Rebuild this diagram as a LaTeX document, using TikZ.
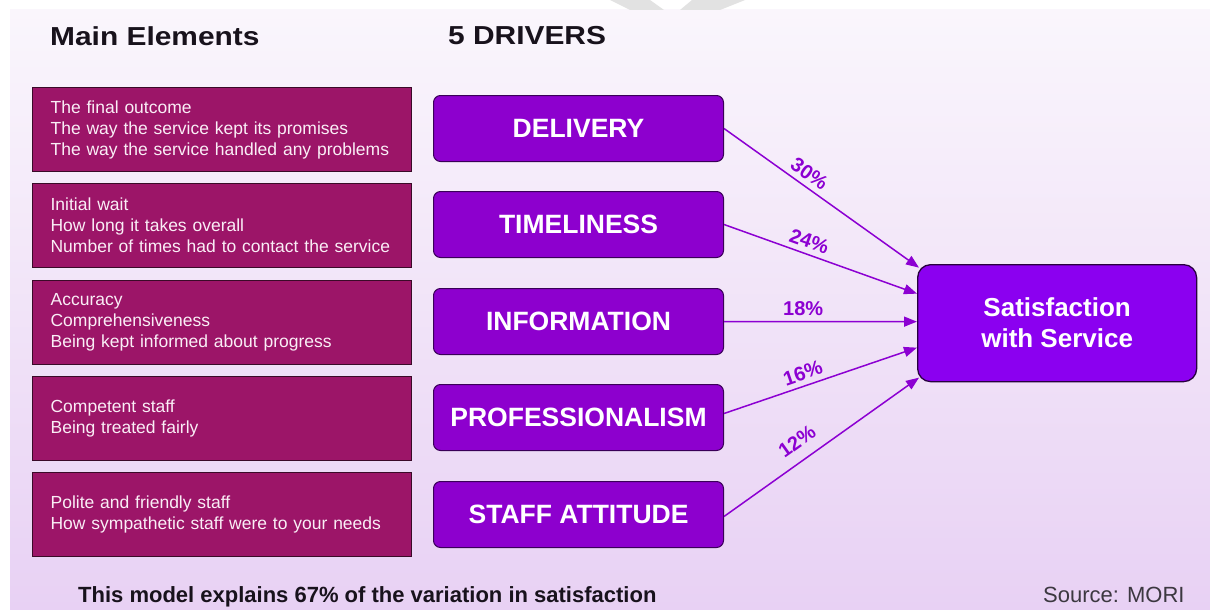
\documentclass[tikz,border=0pt]{standalone}
\usepackage{fontspec}
\setmainfont{Liberation Sans}
\newfontfamily\widefont[FakeStretch=1.15]{Liberation Sans}
\usetikzlibrary{arrows.meta,calc}

\definecolor{bgtop}{RGB}{250,246,252}
\definecolor{bgbot}{RGB}{232,209,244}
\definecolor{elemfill}{RGB}{156,21,104}
\definecolor{elemdraw}{RGB}{58,10,40}
\definecolor{elemtext}{RGB}{250,238,246}
\definecolor{drvfill}{RGB}{141,0,206}
\definecolor{drvdraw}{RGB}{58,0,88}
\definecolor{satfill}{RGB}{139,0,240}
\definecolor{satdraw}{RGB}{40,0,64}
\definecolor{link}{RGB}{140,0,210}
\definecolor{markgray}{RGB}{226,226,226}
\definecolor{darktext}{RGB}{24,18,28}
\definecolor{graytext}{RGB}{60,56,64}

\begin{document}
\begin{tikzpicture}[x=1pt,y=-1pt,
  element/.style={draw=elemdraw, line width=1.2pt, fill=elemfill, text=elemtext,
    anchor=north west, minimum width=379pt, minimum height=84pt,
    text width=343pt, inner xsep=18pt, align=left,
    font=\fontsize{17.5}{21}\selectfont},
  driver/.style={draw=drvdraw, line width=1pt, fill=drvfill, rounded corners=7pt,
    text=white, anchor=north west, minimum width=290pt, minimum height=66pt,
    font=\fontsize{26.5}{30}\selectfont\bfseries},
  outcome/.style={draw=satdraw, line width=1.3pt, fill=satfill, rounded corners=13pt,
    text=white, anchor=north west, minimum width=279pt, minimum height=117pt,
    align=center, font=\fontsize{26}{31}\selectfont\bfseries},
  flow/.style={draw=link, line width=1.5pt, -{Triangle[length=13pt,width=10pt]}},
  pct/.style={sloped, above=4pt, inner sep=1pt, text=link,
    font=\fontsize{20}{22}\selectfont\bfseries},
  heading/.style={anchor=base west, inner sep=0pt, text=darktext,
    font=\widefont\fontsize{26}{30}\selectfont\bfseries}
]
\useasboundingbox (0,0) rectangle (1210,610);
\fill[white] (0,0) rectangle (1210,610);

% slide panel with soft vertical gradient
\shade[top color=bgtop, bottom color=bgbot] (10,10) rectangle (1210,610);

% grey mark in the top margin
\fill[markgray] (610,0) -- (650,0) -- (664,10) -- (630,10) -- cycle;
\fill[markgray] (692,0) -- (745,0) -- (720,10) -- (680,10) -- cycle;

% column headings
\node[heading] (h1) at (50,46) {Main Elements};
\node[heading] (h2) at (448,45) {5 DRIVERS};

% main elements
\node[element] (e1) at (32,87)  {The final outcome\\The way the service kept its promises\\The way the service handled any problems};
\node[element] (e2) at (32,183) {Initial wait\\How long it takes overall\\Number of times had to contact the service};
\node[element] (e3) at (32,280) {Accuracy\\Comprehensiveness\\Being kept informed about progress};
\node[element] (e4) at (32,376) {Competent staff\\Being treated fairly};
\node[element] (e5) at (32,472) {Polite and friendly staff\\How sympathetic staff were to your needs};

% drivers
\node[driver] (del)  at (433,95)  {DELIVERY};
\node[driver] (time) at (433,191) {TIMELINESS};
\node[driver] (info) at (433,288) {INFORMATION};
\node[driver] (prof) at (433,384) {PROFESSIONALISM};
\node[driver] (att)  at (433,481) {STAFF ATTITUDE};

% outcome
\node[outcome] (sat) at (917,264) {Satisfaction\\with Service};

% weighted links
\draw[flow] (del.east)  -- ($(sat.west)+(2,-55.5)$) node[pct, pos=0.40] {30\%};
\draw[flow] (time.east) -- ($(sat.west)+(0,-29.5)$) node[pct, pos=0.42] {24\%};
\draw[flow] (info.east) -- ($(sat.west)+(0,-1.5)$)  node[pct, pos=0.41] {18\%};
\draw[flow] ($(prof.east)+(0,-4)$) -- ($(sat.west)+(0,24.5)$) node[pct, pos=0.43] {16\%};
\draw[flow] ($(att.east)+(0,2)$) -- ($(sat.west)+(2,54.5)$) node[pct, pos=0.43, above=6pt] {12\%};

% footer
\node[anchor=base west, inner sep=0pt, text=darktext, font=\fontsize{22}{26}\selectfont\bfseries] (note) at (78,602)
  {This model explains 67\% of the variation in satisfaction};
\node[anchor=base west, inner sep=0pt, text=graytext, font=\fontsize{22}{26}\selectfont] (src) at (1043,602)
  {Source: MORI};
\end{tikzpicture}
\end{document}
